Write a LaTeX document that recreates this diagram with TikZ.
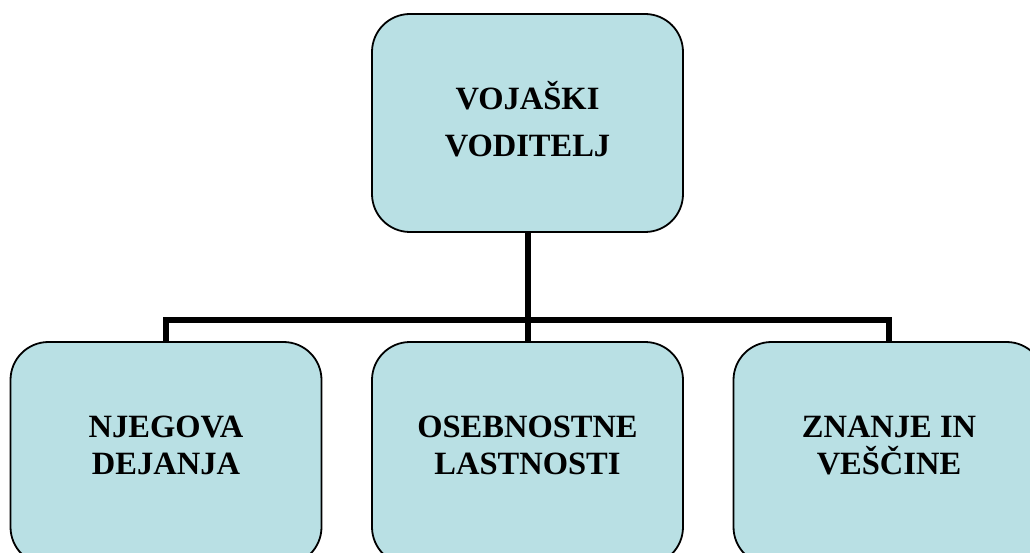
\documentclass[tikz,border=0pt]{standalone}
\usepackage{fontspec}
\setmainfont{Liberation Serif}
\definecolor{boxfill}{RGB}{185,224,228}
\tikzset{
  box/.style={draw=black, line width=1.8pt, fill=boxfill, rounded corners=38pt,
    minimum width=311pt},
  txt/.style={align=center, font=\bfseries\fontsize{32.5}{37}\selectfont},
  conn/.style={line width=6pt}
}
\begin{document}
\begin{tikzpicture}[x=1pt,y=-1pt]
\useasboundingbox (0,0) rectangle (1030,553);
\node[box, minimum height=218pt,
  label={[txt, yshift=4pt, font=\bfseries\fontsize{32.5}{47}\selectfont]center:VOJAŠKI\\VODITELJ}] (top) at (527.5,123) {};
\node[box, minimum height=223pt, label={[txt, yshift=8pt]center:NJEGOVA\\DEJANJA}] (lb) at (166,453.5) {};
\node[box, minimum height=223pt, label={[txt, yshift=8pt]center:OSEBNOSTNE\\LASTNOSTI}] (mb) at (527.5,453.5) {};
\node[box, minimum height=223pt, label={[txt, yshift=8pt]center:ZNANJE IN\\VEŠČINE}] (rb) at (889,453.5) {};
\coordinate (bar) at (0,320);
\draw[conn] (top.south) -- (mb.north);
\draw[conn] (lb.north) |- (rb.north |- bar) -- (rb.north);
\end{tikzpicture}
\end{document}
